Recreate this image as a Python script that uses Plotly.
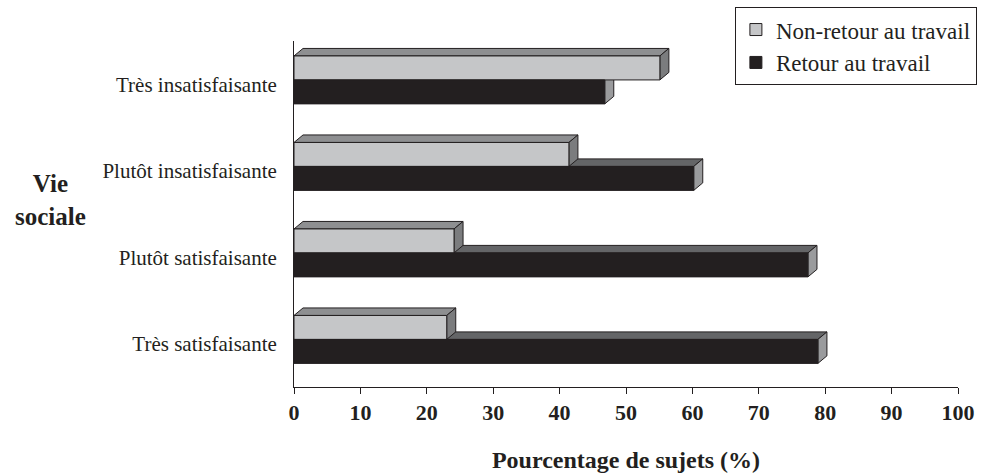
import plotly.graph_objects as go

categories = ["Très insatisfaisante", "Plutôt insatisfaisante", "Plutôt satisfaisante", "Très satisfaisante"]
non_retour = [55.1, 41.4, 24.1, 23.0]
retour = [46.8, 60.2, 77.4, 78.9]
x_ticks = [0, 10, 20, 30, 40, 50, 60, 70, 80, 90, 100]
series_names = ["Non-retour au travail", "Retour au travail"]

pos = [3, 2, 1, 0]
W = 0.277
SHIFT = 0.05
DX = 1.36
DY = 0.087
OUT = "#231f20"
FONT = "Liberation Serif"

styles = {
    "grey": dict(front="#c5c6c8", top="#8e8f91", side="#7b7c7e"),
    "black": dict(front="#231f20", top="#646567", side="#9a9b9d"),
}

grey_y = [p + SHIFT + W / 2 for p in pos]
black_y = [p + SHIFT - W / 2 for p in pos]

fig = go.Figure()
fig.add_trace(go.Bar(
    x=non_retour, y=grey_y, orientation="h", width=W, name=series_names[0],
    marker=dict(color=styles["grey"]["front"], line=dict(color=OUT, width=1)),
    legendgroup="a",
))
fig.add_trace(go.Bar(
    x=retour, y=black_y, orientation="h", width=W, name=series_names[1],
    marker=dict(color=styles["black"]["front"], line=dict(color=OUT, width=1)),
    legendgroup="b",
))

shapes = []

def faces(vals, ys, st):
    out = []
    for v, yc in zip(vals, ys):
        top = yc + W / 2
        bot = yc - W / 2
        out.append(dict(
            type="path", xref="x", yref="y", layer="below",
            path=f"M 0,{top} L {v},{top} L {v + DX},{top + DY} L {DX},{top + DY} Z",
            fillcolor=st["top"], line=dict(color=OUT, width=1),
        ))
        out.append(dict(
            type="path", xref="x", yref="y", layer="below",
            path=f"M {v},{bot} L {v + DX},{bot + DY} L {v + DX},{top + DY} L {v},{top} Z",
            fillcolor=st["side"], line=dict(color=OUT, width=1),
        ))
    return out

shapes += faces(retour, black_y, styles["black"])
shapes += faces(non_retour, grey_y, styles["grey"])

fig.update_layout(
    width=985, height=476,
    margin=dict(l=294, r=27, t=41, b=89, autoexpand=False),
    paper_bgcolor="white", plot_bgcolor="white",
    barmode="overlay",
    shapes=shapes,
    showlegend=True,
    legend=dict(
        x=0.664, y=1.098, xanchor="left", yanchor="top",
        bordercolor=OUT, borderwidth=1, bgcolor="white",
        font=dict(family=FONT, size=23, color=OUT),
        traceorder="normal", tracegroupgap=8,
    ),
    font=dict(family=FONT, color=OUT),
    xaxis=dict(
        range=[0, 100], tickvals=x_ticks, ticktext=[str(t) for t in x_ticks],
        showgrid=False, zeroline=False, showline=True, linecolor=OUT, linewidth=1,
        ticks="outside", ticklen=6, tickcolor=OUT,
        tickfont=dict(family=FONT, size=22, color=OUT, weight="bold"),
        title=dict(text="<b>Pourcentage de sujets (%)</b>", font=dict(family=FONT, size=24, color=OUT), standoff=26),
    ),
    yaxis=dict(
        range=[-0.5, 3.5], tickvals=pos, ticktext=categories,
        showgrid=False, zeroline=False, showline=True, linecolor=OUT, linewidth=1,
        ticks="", ticklabelstandoff=12,
        tickfont=dict(family=FONT, size=21, color=OUT),
    ),
    annotations=[
        dict(
            text="<b>Vie<br>sociale</b>", xref="paper", yref="paper",
            x=-0.366, y=0.54, xanchor="center", yanchor="middle", showarrow=False,
            font=dict(family=FONT, size=25, color=OUT), align="center",
        ),
    ],
)

fig.write_html("out.html")
